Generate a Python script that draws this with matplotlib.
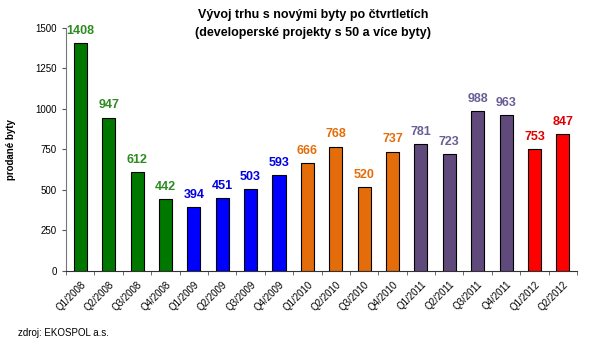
import matplotlib
matplotlib.use("Agg")
import matplotlib.pyplot as plt
import numpy as np

plt.rcParams["font.family"] = ["Liberation Sans", "DejaVu Sans"]

categories = ["Q1/2008", "Q2/2008", "Q3/2008", "Q4/2008",
              "Q1/2009", "Q2/2009", "Q3/2009", "Q4/2009",
              "Q1/2010", "Q2/2010", "Q3/2010", "Q4/2010",
              "Q1/2011", "Q2/2011", "Q3/2011", "Q4/2011",
              "Q1/2012", "Q2/2012"]
values = [1408, 947, 612, 442, 394, 451, 503, 593,
          666, 768, 520, 737, 781, 723, 988, 963, 753, 847]
year_colors = {"2008": "#007800", "2009": "#0000FF", "2010": "#E46C0A",
               "2011": "#604A7B", "2012": "#FF0000"}
label_colors = {"2008": "#2E8B22", "2009": "#0000E0", "2010": "#E46C0A",
                "2011": "#6A5E95", "2012": "#E00000"}
yticks = [0, 250, 500, 750, 1000, 1250, 1500]

fig = plt.figure(figsize=(5.9, 3.45), dpi=100)
ax = fig.add_axes([0.112, 0.2145, 0.866, 0.7045])
x = np.arange(len(categories))
cols = [year_colors[c[-4:]] for c in categories]
ax.bar(x, values, width=0.46, color=cols, edgecolor="black", linewidth=0.8)
for xi, v, c in zip(x, values, categories):
    ax.text(xi, v + 38, str(v), ha="center", va="bottom", fontsize=9,
            fontweight="bold", color=label_colors[c[-4:]])

ax.set_xlim(-0.5, len(categories) - 0.5)
ax.set_ylim(0, 1500)
ax.set_yticks(yticks)
ax.set_yticklabels([str(t) for t in yticks], fontsize=7)
ax.set_xticks(x)
ax.set_xticklabels(categories, rotation=45, ha="right", rotation_mode="anchor", fontsize=7)
ax.tick_params(axis="x", length=0, pad=6)
ax.set_xticks(np.arange(-0.5, len(categories) + 0.5, 1), minor=True)
ax.tick_params(axis="x", which="minor", length=3, direction="out", color="#555555")
ax.tick_params(axis="y", length=3, direction="out", color="#555555")
for s in ["top", "right"]:
    ax.spines[s].set_visible(False)
ax.spines["left"].set_color("#777777")
ax.spines["bottom"].set_color("#333333")

ax.set_ylabel("prodané byty", fontsize=7, fontweight="bold", labelpad=14)
fig.text(0.53, 0.957, "Vývoj trhu s novými byty po čtvrtletích", ha="center",
         va="center", fontsize=9, fontweight="bold")
fig.text(0.53, 0.904, "(developerské projekty s 50 a více byty)", ha="center",
         va="center", fontsize=9, fontweight="bold")
fig.text(0.03, 0.035, "zdroj: EKOSPOL a.s.", ha="left", va="center", fontsize=7)

fig.savefig("out.png", dpi=100)
